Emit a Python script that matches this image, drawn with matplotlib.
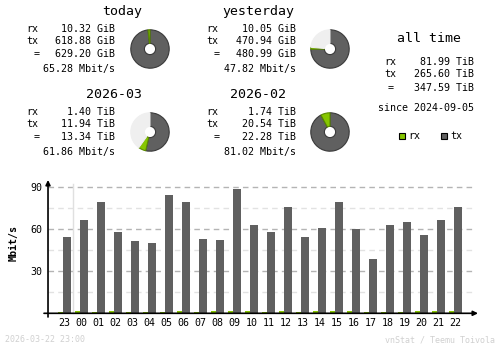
import matplotlib
matplotlib.use('Agg')
import matplotlib.pyplot as plt

# summary values
periods = ['today', 'yesterday', '2026-03', '2026-02']
rx_vals = [10.32, 10.05, 1.40, 1.74]
tx_vals = [618.88, 470.94, 11.94, 20.54]
tot_vals = [629.20, 480.99, 13.34, 22.28]
units = ['GiB', 'GiB', 'TiB', 'TiB']
rates = ['65.28', '47.82', '61.86', '81.02']

alltime_rx = '81.99 TiB'
alltime_tx = '265.60 TiB'
alltime_tot = '347.59 TiB'
since = '2024-09-05'

# hourly rates (Mbit/s)
hours = ['23', '00', '01', '02', '03', '04', '05', '06', '07', '08', '09', '10',
         '11', '12', '13', '14', '15', '16', '17', '18', '19', '20', '21', '22']
tx_rate = [54.5, 66.6, 79.5, 58.1, 51.6, 50.2, 84.5, 79.5, 53.1, 52.4, 88.8, 63.0,
           58.0, 76.0, 54.5, 61.0, 79.5, 60.2, 38.8, 63.0, 65.2, 55.9, 66.6, 76.0]
rx_rate = [0.8, 1.4, 0.8, 1.4, 0.8, 0.8, 0.8, 1.4, 0.8, 1.4, 1.4, 1.4,
           0.8, 1.4, 0.8, 1.4, 1.4, 1.4, 0.8, 0.8, 0.8, 1.4, 1.4, 1.4]

RX = '#86c600'
TX = '#606060'
FONT = 'DejaVu Sans Mono'

W, H = 500, 348
fig = plt.figure(figsize=(W / 100, H / 100), dpi=100)
fig.patch.set_facecolor('white')


def px(x, y):
    return x / W, 1 - y / H


def txt(x, y, s, size=7.2, ha='left', color='black', **kw):
    fig.text(*px(x, y), s, fontsize=size, ha=ha, va='center', color=color,
             family=FONT, **kw)


# text blocks
blocks = [(26, 115, 122, 12, 150, 49), (206, 296, 258, 12, 330, 49),
          (26, 115, 114, 95, 150, 132), (206, 296, 258, 95, 330, 132)]
for i, (lx, rx_, tcx, ty, pcx, pcy) in enumerate(blocks):
    txt(tcx, ty, periods[i], size=9.5, ha='center')
    txt(lx, ty + 17, 'rx')
    txt(lx, ty + 29, 'tx')
    txt(lx + 8, ty + 42, '=')
    txt(rx_, ty + 17, '%.2f %s' % (rx_vals[i], units[i]), ha='right')
    txt(rx_, ty + 29, '%.2f %s' % (tx_vals[i], units[i]), ha='right')
    txt(rx_, ty + 42, '%.2f %s' % (tot_vals[i], units[i]), ha='right')
    txt(rx_, ty + 57, '%s Mbit/s' % rates[i], ha='right')

    # donut
    ref = max(tot_vals[0:2]) if i < 2 else max(tot_vals[2:4])
    rest = ref - tot_vals[i]
    r = 24
    ax = fig.add_axes([(pcx - r) / W, (H - pcy - r) / H, 2 * r / W, 2 * r / H])
    vals = [tx_vals[i], rx_vals[i]]
    cols = [TX, RX]
    edges = ['#3a3a3a', '#5a8a00']
    if rest > 0.001:
        vals.append(rest)
        cols.append('#efefef')
        edges.append('#efefef')
    wedges, _ = ax.pie(vals, colors=cols, startangle=90, counterclock=False,
                       radius=1, wedgeprops=dict(width=1 - 7 / 24, linewidth=0.8))
    for w, ec in zip(wedges, edges):
        w.set_edgecolor(ec)
    ax.set_aspect('equal')

# all time
txt(429, 39, 'all time', size=9.5, ha='center')
txt(384, 62, 'rx')
txt(384, 74, 'tx')
txt(388, 88, '=')
txt(474, 62, alltime_rx, ha='right')
txt(474, 74, alltime_tx, ha='right')
txt(474, 88, alltime_tot, ha='right')
txt(474, 108, 'since ' + since, ha='right')

# legend
fig.patches.append(plt.Rectangle(px(399, 139), 5.5 / W, 5.5 / H, transform=fig.transFigure,
                                 facecolor=RX, edgecolor='black', linewidth=0.8))
txt(408, 136, 'rx')
fig.patches.append(plt.Rectangle(px(441, 139), 5.5 / W, 5.5 / H, transform=fig.transFigure,
                                 facecolor=TX, edgecolor='black', linewidth=0.8))
txt(450, 136, 'tx')

# hourly bar chart
ax = fig.add_axes([44 / W, (H - 317) / H, (478 - 44) / W, (317 - 180) / H])
ax.set_xlim(-1.206, 24.32)
ax.set_ylim(-2.64, 95.2)
for s in ax.spines.values():
    s.set_visible(False)

xs = list(range(len(hours)))
for yv in [15, 45, 75]:
    ax.plot([-0.97, 24.03], [yv, yv], color='#e2e2e2', lw=1, ls=(0, (4, 3)), zorder=0.5)
for yv in [30, 60, 90]:
    ax.plot([-0.97, 24.03], [yv, yv], color='#b4b4b4', lw=1, ls=(0, (4, 3)), zorder=0.5)
ax.plot([0.5, 0.5], [0, 92.4], color='#e0e0e0', lw=1, zorder=0.5)

ax.bar([x - 0.235 for x in xs], rx_rate, width=0.27, color=RX, linewidth=0, zorder=2)
ax.bar([x + 0.16 for x in xs], tx_rate, width=0.45, color=TX, linewidth=0, zorder=2)

ax.annotate('', xy=(24.32, 0), xytext=(-1.206, 0),
            arrowprops=dict(arrowstyle='-|>', color='black', lw=1.2,
                            mutation_scale=7, shrinkA=0, shrinkB=0), zorder=3)
ax.annotate('', xy=(-0.97, 95.2), xytext=(-0.97, -2.64),
            arrowprops=dict(arrowstyle='-|>', color='black', lw=1.2,
                            mutation_scale=7, shrinkA=0, shrinkB=0), zorder=3)

ax.set_xticks(xs)
ax.set_xticklabels(hours, family=FONT, fontsize=7.2)
ax.set_yticks([30, 60, 90])
ax.set_yticklabels(['30', '60', '90'], family=FONT, fontsize=7.2)
ax.tick_params(axis='x', length=0, pad=1)
ax.tick_params(axis='y', length=0, pad=1)

txt(14, 243, 'Mbit/s', size=7.2, ha='center', rotation=90, weight='bold')

# footer
txt(5, 340, '2026-03-22 23:00', size=6, color='#d0d0d0')
txt(495, 340, 'vnStat / Teemu Toivola', size=6, ha='right', color='#d0d0d0')

fig.savefig('out.png', dpi=100, facecolor='white')
